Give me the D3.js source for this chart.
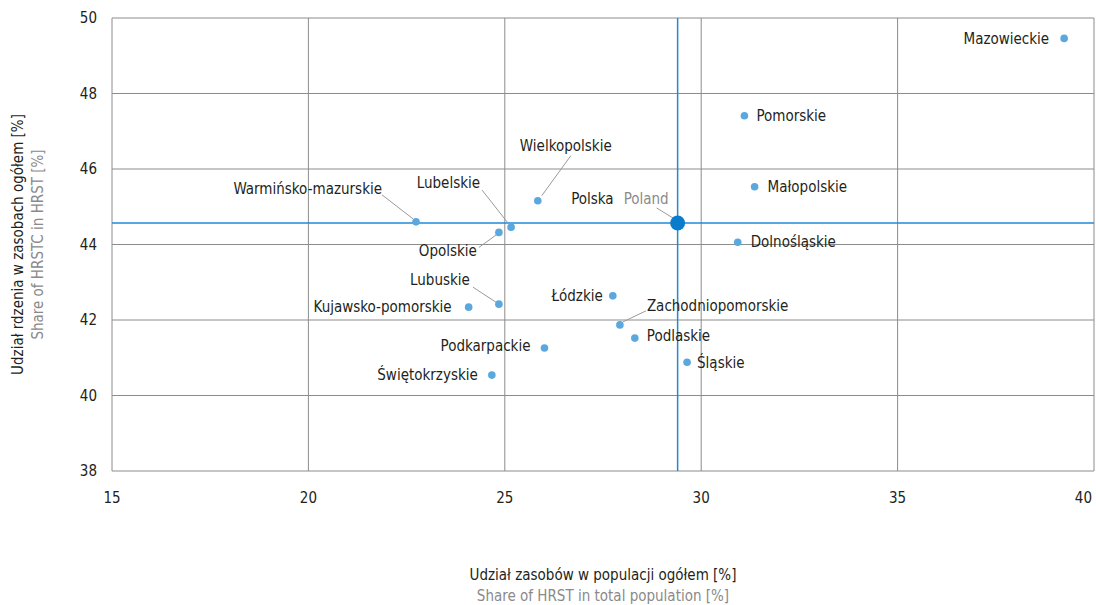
<!DOCTYPE html>
<html lang="pl">
  <head>
    <meta charset="UTF-8" />
    <script src="https://d3js.org/d3.v7.min.js"></script>
    <title>HRST</title>
    <style>
      body { margin: 0; background: #fff; }
      svg text { font-family: "Liberation Sans Narrow", "Arial Narrow", "DejaVu Sans Condensed", sans-serif; }
    </style>
  </head>
  <body>
    <div id="chart"></div>
    <script>
      // regions: share of HRST in population (x), share of HRSTC in HRST (y)
      var regions = ["Mazowieckie", "Pomorskie", "Małopolskie", "Dolnośląskie", "Wielkopolskie",
        "Warmińsko-mazurskie", "Lubelskie", "Opolskie", "Lubuskie", "Kujawsko-pomorskie",
        "Podkarpackie", "Świętokrzyskie", "Łódzkie", "Zachodniopomorskie", "Podlaskie", "Śląskie"];
      var xValues = [39.24, 31.10, 31.36, 30.93, 25.84, 22.74, 25.16, 24.85, 24.85, 24.08,
        26.01, 24.67, 27.75, 27.93, 28.31, 29.64];
      var yValues = [49.46, 47.41, 45.53, 44.06, 45.16, 44.60, 44.46, 44.32, 42.42, 42.34,
        41.26, 40.54, 42.64, 41.87, 41.52, 40.88];
      var poland = { name: "Polska", nameEn: "Poland", x: 29.40, y: 44.57 };
      var xTicks = [15, 20, 25, 30, 35, 40];
      var yTicks = [38, 40, 42, 44, 46, 48, 50];

      // label placement: dx, dy of text anchor relative to point, anchor, leader line
      var labelPos = {
        "Mazowieckie": { dx: -15, dy: 0, anchor: "end" },
        "Pomorskie": { dx: 12, dy: 0, anchor: "start" },
        "Małopolskie": { dx: 13, dy: 0, anchor: "start" },
        "Dolnośląskie": { dx: 13, dy: 0, anchor: "start" },
        "Wielkopolskie": { dx: 28, dy: -55, anchor: "middle", line: [[4, -5], [33, -45]] },
        "Warmińsko-mazurskie": { dx: -34, dy: -33, anchor: "end", line: [[-3, -3], [-34, -27]] },
        "Lubelskie": { dx: -31, dy: -44, anchor: "end", line: [[-3, -4], [-29, -37]] },
        "Opolskie": { dx: -22, dy: 18, anchor: "end", line: [[-2, 2], [-20, 15]] },
        "Lubuskie": { dx: -29, dy: -24, anchor: "end", line: [[-3, -2], [-26, -17]] },
        "Kujawsko-pomorskie": { dx: -17, dy: 0, anchor: "end" },
        "Podkarpackie": { dx: -14, dy: -2, anchor: "end" },
        "Świętokrzyskie": { dx: -14, dy: 0, anchor: "end" },
        "Łódzkie": { dx: -10, dy: 0, anchor: "end" },
        "Zachodniopomorskie": { dx: 27, dy: -19, anchor: "start", line: [[3, -3], [26, -14]] },
        "Podlaskie": { dx: 12, dy: -2, anchor: "start" },
        "Śląskie": { dx: 10, dy: 0, anchor: "start" }
      };

      var width = 1096, height = 605;
      var margin = { top: 18, right: 2, bottom: 134, left: 112 };
      var fs = 15;

      var svg = d3.select("#chart").append("svg")
        .attr("width", width).attr("height", height);

      var x = d3.scaleLinear().domain([15, 40]).range([margin.left, width - margin.right]);
      var y = d3.scaleLinear().domain([38, 50]).range([height - margin.bottom, margin.top]);

      // grid
      svg.append("g").selectAll("line").data(yTicks).join("line")
        .attr("x1", x(15)).attr("x2", x(40))
        .attr("y1", function (d) { return y(d); }).attr("y2", function (d) { return y(d); })
        .attr("stroke", "#8c8c8c").attr("stroke-width", 1);
      svg.append("g").selectAll("line").data(xTicks).join("line")
        .attr("y1", y(38)).attr("y2", y(50))
        .attr("x1", function (d) { return x(d); }).attr("x2", function (d) { return x(d); })
        .attr("stroke", "#8c8c8c").attr("stroke-width", 1);

      // tick labels
      svg.append("g").selectAll("text").data(yTicks).join("text")
        .attr("x", x(15) - 15).attr("y", function (d) { return y(d); })
        .attr("dy", "0.35em").attr("text-anchor", "end")
        .attr("font-size", fs).attr("fill", "#231f20")
        .text(function (d) { return d; });
      svg.append("g").selectAll("text").data(xTicks).join("text")
        .attr("x", function (d, i) { return i === xTicks.length - 1 ? x(d) - 2 : x(d); })
        .attr("y", y(38) + 27)
        .attr("dy", "0.35em")
        .attr("text-anchor", function (d, i) { return i === xTicks.length - 1 ? "end" : "middle"; })
        .attr("font-size", fs).attr("fill", "#231f20")
        .text(function (d) { return d; });

      // Poland reference lines
      svg.append("line")
        .attr("x1", x(15)).attr("x2", x(40))
        .attr("y1", y(poland.y)).attr("y2", y(poland.y))
        .attr("stroke", "#1f8ad6").attr("stroke-width", 1.5);
      svg.append("line")
        .attr("y1", y(38)).attr("y2", y(50))
        .attr("x1", x(poland.x)).attr("x2", x(poland.x))
        .attr("stroke", "#1f8ad6").attr("stroke-width", 1.5);

      var data = regions.map(function (r, i) {
        return { name: r, x: xValues[i], y: yValues[i] };
      });

      // leader lines
      svg.append("g").selectAll("line")
        .data(data.filter(function (d) { return labelPos[d.name].line; }))
        .join("line")
        .attr("x1", function (d) { return x(d.x) + labelPos[d.name].line[0][0]; })
        .attr("y1", function (d) { return y(d.y) + labelPos[d.name].line[0][1]; })
        .attr("x2", function (d) { return x(d.x) + labelPos[d.name].line[1][0]; })
        .attr("y2", function (d) { return y(d.y) + labelPos[d.name].line[1][1]; })
        .attr("stroke", "#9a9a9a").attr("stroke-width", 1);

      svg.append("g").selectAll("circle").data(data).join("circle")
        .attr("cx", function (d) { return x(d.x); })
        .attr("cy", function (d) { return y(d.y); })
        .attr("r", 3.8)
        .attr("fill", "#5aa8de");

      svg.append("g").selectAll("text").data(data).join("text")
        .attr("x", function (d) { return x(d.x) + labelPos[d.name].dx; })
        .attr("y", function (d) { return y(d.y) + labelPos[d.name].dy; })
        .attr("dy", "0.35em")
        .attr("text-anchor", function (d) { return labelPos[d.name].anchor; })
        .attr("font-size", fs).attr("fill", "#231f20")
        .text(function (d) { return d.name; });

      // Poland point
      var px = x(poland.x), py = y(poland.y);
      svg.append("line")
        .attr("x1", px - 3).attr("y1", py - 4).attr("x2", px - 21).attr("y2", py - 15)
        .attr("stroke", "#9a9a9a").attr("stroke-width", 1);
      svg.append("circle").attr("cx", px).attr("cy", py).attr("r", 7.5).attr("fill", "#0a7ccc");
      var pl = svg.append("text")
        .attr("x", px - 9).attr("y", py - 24).attr("dy", "0.35em")
        .attr("text-anchor", "end").attr("font-size", fs);
      pl.append("tspan").attr("fill", "#231f20").text(poland.name);
      pl.append("tspan").attr("fill", "#8a8a8a").attr("dx", 10).text(poland.nameEn);

      // axis titles
      svg.append("text")
        .attr("x", (x(15) + x(40)) / 2).attr("y", 575).attr("dy", "0.35em")
        .attr("text-anchor", "middle").attr("font-size", fs).attr("fill", "#231f20")
        .text("Udział zasobów w populacji ogółem [%]");
      svg.append("text")
        .attr("x", (x(15) + x(40)) / 2).attr("y", 596).attr("dy", "0.35em")
        .attr("text-anchor", "middle").attr("font-size", fs).attr("fill", "#8a8a8a")
        .text("Share of HRST in total population [%]");

      var cy = (y(38) + y(50)) / 2;
      svg.append("text")
        .attr("transform", "translate(18," + cy + ") rotate(-90)")
        .attr("dy", "0.35em").attr("text-anchor", "middle")
        .attr("font-size", fs).attr("fill", "#231f20")
        .text("Udział rdzenia w zasobach ogółem [%]");
      svg.append("text")
        .attr("transform", "translate(38," + cy + ") rotate(-90)")
        .attr("dy", "0.35em").attr("text-anchor", "middle")
        .attr("font-size", fs).attr("fill", "#8a8a8a")
        .text("Share of HRSTC in HRST [%]");
    </script>
  </body>
</html>
